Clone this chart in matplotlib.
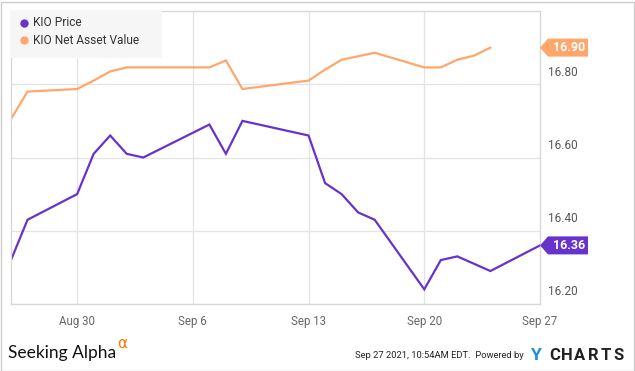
import numpy as np
import pandas as pd
import matplotlib
matplotlib.use("Agg")
import matplotlib.pyplot as plt
import matplotlib.dates as mdates
from matplotlib.patches import Polygon, Rectangle

plt.rcParams['font.family'] = ['Roboto', 'DejaVu Sans']

price_dates = pd.to_datetime([
    '2021-08-26', '2021-08-27', '2021-08-30', '2021-08-31', '2021-09-01',
    '2021-09-02', '2021-09-03', '2021-09-07', '2021-09-08', '2021-09-09',
    '2021-09-13', '2021-09-14', '2021-09-15', '2021-09-16', '2021-09-17',
    '2021-09-20', '2021-09-21', '2021-09-22', '2021-09-24', '2021-09-27'])
price = [16.32, 16.43, 16.50, 16.61, 16.66, 16.61, 16.60, 16.69, 16.61, 16.70,
         16.66, 16.53, 16.50, 16.45, 16.43, 16.24, 16.32, 16.33, 16.29, 16.36]

nav_dates = pd.to_datetime([
    '2021-08-26', '2021-08-27', '2021-08-30', '2021-08-31', '2021-09-01',
    '2021-09-02', '2021-09-03', '2021-09-07', '2021-09-08', '2021-09-09',
    '2021-09-13', '2021-09-14', '2021-09-15', '2021-09-17', '2021-09-20',
    '2021-09-21', '2021-09-22', '2021-09-23', '2021-09-24'])
nav = [16.705, 16.78, 16.787, 16.81, 16.835, 16.846, 16.846, 16.846, 16.865, 16.787,
       16.81, 16.84, 16.867, 16.886, 16.846, 16.846, 16.867, 16.878, 16.90]

tick_dates = pd.to_datetime(['2021-08-30', '2021-09-06', '2021-09-13', '2021-09-20', '2021-09-27'])
tick_labels = ['Aug 30', 'Sep 6', 'Sep 13', 'Sep 20', 'Sep 27']
y_ticks = [16.20, 16.40, 16.60, 16.80]

purple = '#6633cc'
orange = '#ffa66b'
W, H = 635, 371

fig = plt.figure(figsize=(W / 100, H / 100), dpi=100)
ax = fig.add_axes([11 / W, (H - 304) / H, 529 / W, 293 / H])

ax.plot(price_dates, price, color=purple, lw=1.6, solid_joinstyle='miter')
ax.plot(nav_dates, nav, color=orange, lw=1.6, solid_joinstyle='miter')

ax.set_xlim(pd.Timestamp('2021-08-26'), pd.Timestamp('2021-09-27'))
ax.set_ylim(16.2, 17.0)
ax.set_xticks(tick_dates)
ax.set_xticklabels(tick_labels)
ax.set_yticks(y_ticks)
ax.set_yticklabels([])
ax.grid(True, color='#e3e3e3', lw=0.9)
ax.set_axisbelow(True)
for s in ax.spines.values():
    s.set_color('#d6d6d6')
    s.set_linewidth(0.9)
ax.tick_params(axis='x', length=0, pad=8, labelsize=8.3, labelcolor='#666666')
ax.tick_params(axis='y', length=0)

# right-side y labels sit a bit above their gridlines
for v in y_ticks:
    ax.annotate('%.2f' % v, xy=(1, v), xycoords=('axes fraction', 'data'),
                xytext=(6, 4), textcoords='offset points', ha='left', va='bottom',
                fontsize=8.5, color='#555555', annotation_clip=False)

# legend box
ax.add_patch(Rectangle((0, 1 - 47 / 293), 151 / 529, 47 / 293, transform=ax.transAxes,
                       facecolor='#f6f6f6', edgecolor='none', zorder=3))
for i, (lab, c) in enumerate([('KIO Price', purple), ('KIO Net Asset Value', orange)]):
    yy = 1 - (12 + 17 * i) / 293
    ax.plot([13 / 529], [yy], 'o', color=c, ms=5, transform=ax.transAxes, zorder=4, clip_on=False)
    ax.text(22 / 529, yy, lab, transform=ax.transAxes, fontsize=8.6, color='#333333',
            va='center', ha='left', zorder=4)

# value tags on the right edge
fig.canvas.draw()
for v, c in [(16.90, orange), (16.36, purple)]:
    px, py = ax.transData.transform((mdates.date2num(pd.Timestamp('2021-09-27')), v))
    xs = [px, px + 8, px + 48, px + 48, px + 8]
    ys = [py, py + 9, py + 9, py - 9, py - 9]
    fig.patches.append(Polygon(np.column_stack([np.array(xs) / W, np.array(ys) / H]),
                               closed=True, transform=fig.transFigure, facecolor=c,
                               edgecolor='none'))
    fig.text((px + 29) / W, py / H, '%.2f' % v, color='white', fontsize=9, fontweight='bold',
             ha='center', va='center')

# outer frame
fig.patches.append(Rectangle((0.5 / W, 0.5 / H), (W - 1.5) / W, (H - 2) / H,
                             transform=fig.transFigure, fill=False, edgecolor='#cccccc', lw=1))

# footer
sa = fig.text(8 / W, 13 / H, 'Seeking Alpha', fontsize=12.5, color='#111111', family='Lato',
              ha='left', va='baseline')
r = fig.canvas.get_renderer()
ext = sa.get_window_extent(r)
fig.text(ext.x1 / W + 1 / W, 23 / H, 'α', fontsize=11, color='#ff7700', family='DejaVu Sans',
         ha='left', va='baseline')
fig.text(355 / W, 15 / H, 'Sep 27 2021, 10:54AM EDT.  Powered by', fontsize=6.75,
         color='#222222', ha='left', va='center')
fig.text(536 / W, 15 / H, 'Y', fontsize=12.5, color='#1f8ee0', fontweight='bold',
         ha='center', va='center')
for i, ch in enumerate('CHARTS'):
    fig.text((548 + 6.4 + 12.8 * i) / W, 15 / H, ch, fontsize=12, color='#222222',
             fontweight='bold', ha='center', va='center')

fig.savefig('out.png', dpi=100)
